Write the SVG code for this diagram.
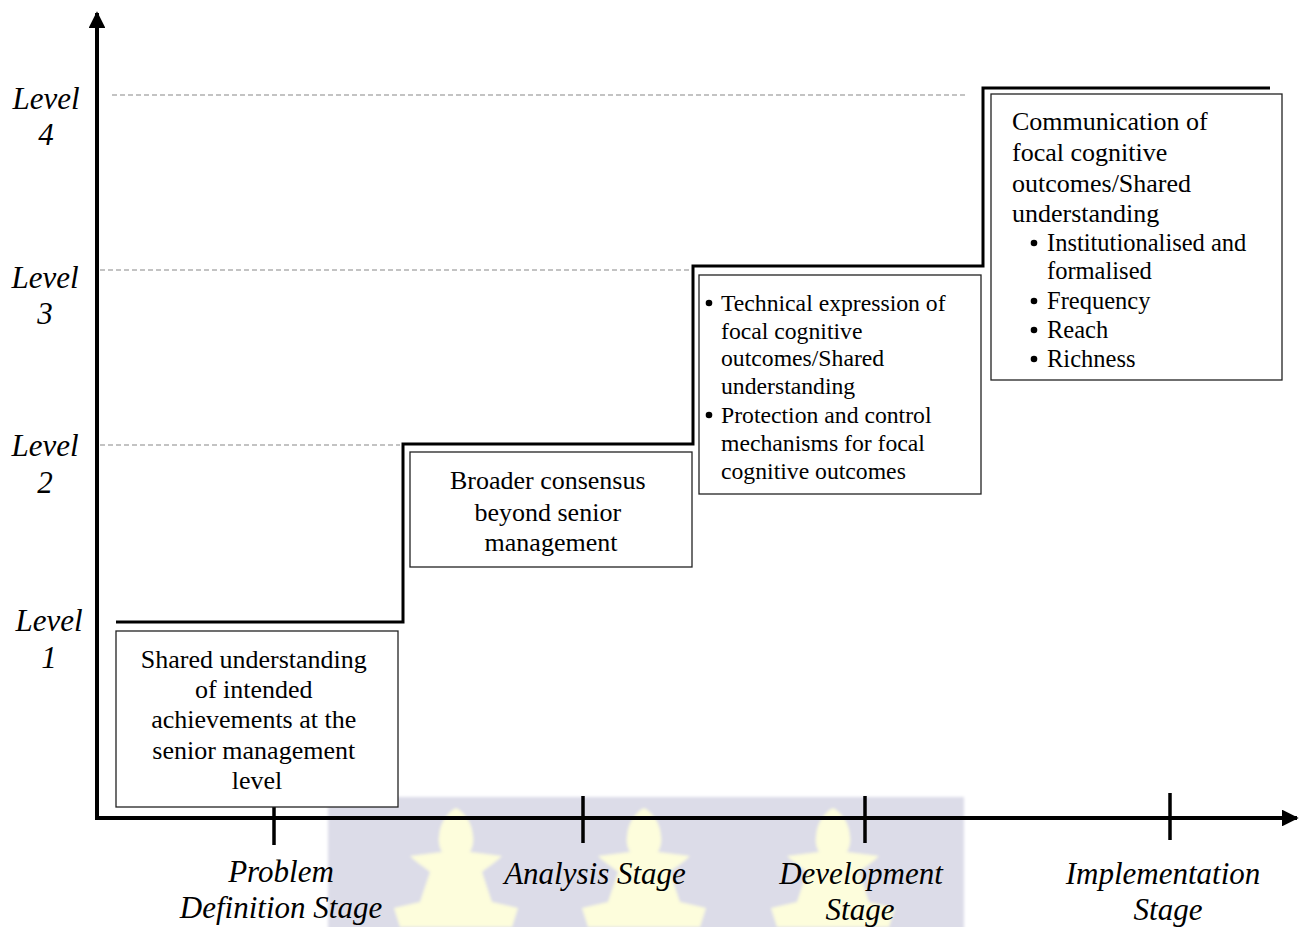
<svg xmlns="http://www.w3.org/2000/svg" width="1301" height="927" viewBox="0 0 1301 927">
  <style>
    .box { fill: #ffffff; stroke: #222222; stroke-width: 1.3; }
    .txt { font-family: "Liberation Serif", "Times New Roman", serif; fill: #000000; }
    .lbl { font-family: "Liberation Serif", "Times New Roman", serif; font-style: italic; font-size: 31px; fill: #000000; text-anchor: middle; }
    .guide { stroke: #b0b0b0; stroke-width: 1.3; stroke-dasharray: 5 3; fill: none; }
    .axis { stroke: #000000; stroke-width: 4; fill: none; }
    .tick { stroke: #000000; stroke-width: 3.5; }
    .step { stroke: #000000; stroke-width: 3; fill: none; }
    .flame { fill: #fdfddc; }
  </style>
  <defs>
    <marker id="arrowHead" viewBox="0 0 10 10" refX="9" refY="5" markerWidth="4.2" markerHeight="4.2" orient="auto" markerUnits="strokeWidth">
      <path d="M0,0 L10,5 L0,10 Z" fill="#000000"/>
    </marker>
    <filter id="soft" x="-5%" y="-5%" width="110%" height="110%">
      <feGaussianBlur stdDeviation="1.5"/>
    </filter>
    <path id="flameShape" d="M0,808 C8,812 16,822 17,836 C18,844 16,848 14,852 L46,856 C38,864 30,868 26,872 C30,884 34,896 36,902 L62,908 L56,927 L-56,927 L-62,908 L-36,902 C-34,896 -30,884 -26,872 C-30,868 -38,864 -46,856 L-14,852 C-16,848 -18,844 -17,836 C-16,822 -8,812 0,808 Z"/>
  </defs>

  <rect x="0" y="0" width="1301" height="927" fill="#ffffff"/>

  <!-- background emblem band -->
  <g id="emblem" filter="url(#soft)">
    <rect x="328" y="797" width="636" height="135" fill="#dcdce8"/>
    <use href="#flameShape" class="flame" transform="translate(456,0)"/>
    <use href="#flameShape" class="flame" transform="translate(644,0)"/>
    <use href="#flameShape" class="flame" transform="translate(833,0)"/>
  </g>

  <!-- level guide lines -->
  <g id="guides">
    <line class="guide" x1="112" y1="95" x2="968" y2="95"/>
    <line class="guide" x1="100" y1="270" x2="690" y2="270"/>
    <line class="guide" x1="100" y1="445" x2="400" y2="445"/>
  </g>

  <!-- connectors: axes, ticks and the level staircase -->
  <g id="connectors">
    <line class="axis" x1="97" y1="820" x2="97" y2="13" marker-end="url(#arrowHead)"/>
    <line class="axis" x1="95" y1="818" x2="1297" y2="818" marker-end="url(#arrowHead)"/>
    <line class="tick" x1="274" y1="796" x2="274" y2="845"/>
    <line class="tick" x1="583" y1="796" x2="583" y2="843"/>
    <line class="tick" x1="865" y1="796" x2="865" y2="843"/>
    <line class="tick" x1="1170" y1="793" x2="1170" y2="840"/>
    <path class="step" d="M116,622 H403 V444 H693 V266 H983 V88 H1270"/>
  </g>

  <!-- level labels -->
  <g id="level-labels">
    <text class="lbl" x="46" y="109">Level</text>
    <text class="lbl" x="46" y="145">4</text>
    <text class="lbl" x="45" y="288">Level</text>
    <text class="lbl" x="45" y="324">3</text>
    <text class="lbl" x="45" y="456">Level</text>
    <text class="lbl" x="45" y="493">2</text>
    <text class="lbl" x="49" y="631">Level</text>
    <text class="lbl" x="49" y="668">1</text>
  </g>

  <!-- stage labels -->
  <g id="stage-labels">
    <text class="lbl" x="281" y="882">Problem</text>
    <text class="lbl" x="281" y="918">Definition Stage</text>
    <text class="lbl" x="595" y="884">Analysis Stage</text>
    <text class="lbl" x="861" y="884">Development</text>
    <text class="lbl" x="860" y="920">Stage</text>
    <text class="lbl" x="1163" y="884">Implementation</text>
    <text class="lbl" x="1168" y="920">Stage</text>
  </g>

  <g id="node-level1">
    <rect class="box" x="116" y="631" width="282" height="176"/>
    <text class="txt" font-size="26" text-anchor="middle">
      <tspan x="257" y="668">Shared understanding</tspan>
      <tspan x="257" y="698">of intended</tspan>
      <tspan x="257" y="728">achievements at the</tspan>
      <tspan x="257" y="759">senior management</tspan>
      <tspan x="257" y="789">level</tspan>
    </text>
  </g>

  <g id="node-level2">
    <rect class="box" x="410" y="452" width="282" height="115"/>
    <text class="txt" font-size="26" text-anchor="middle">
      <tspan x="551" y="489">Broader consensus</tspan>
      <tspan x="551" y="521">beyond senior</tspan>
      <tspan x="551" y="551">management</tspan>
    </text>
  </g>

  <g id="node-level3">
    <rect class="box" x="699" y="275" width="282" height="219"/>
    <circle cx="709" cy="303" r="3.3" fill="#000000"/>
    <circle cx="709" cy="415" r="3.3" fill="#000000"/>
    <text class="txt" font-size="23.7">
      <tspan x="721" y="311">Technical expression of</tspan>
      <tspan x="721" y="339">focal cognitive</tspan>
      <tspan x="721" y="366">outcomes/Shared</tspan>
      <tspan x="721" y="394">understanding</tspan>
      <tspan x="721" y="423">Protection and control</tspan>
      <tspan x="721" y="451">mechanisms for focal</tspan>
      <tspan x="721" y="479">cognitive outcomes</tspan>
    </text>
  </g>

  <g id="node-level4">
    <rect class="box" x="991" y="94" width="291" height="286"/>
    <text class="txt" font-size="26">
      <tspan x="1012" y="130">Communication of</tspan>
      <tspan x="1012" y="161">focal cognitive</tspan>
      <tspan x="1012" y="192">outcomes/Shared</tspan>
      <tspan x="1012" y="222">understanding</tspan>
    </text>
    <circle cx="1034" cy="243" r="3.3" fill="#000000"/>
    <circle cx="1034" cy="301" r="3.3" fill="#000000"/>
    <circle cx="1034" cy="330" r="3.3" fill="#000000"/>
    <circle cx="1034" cy="359" r="3.3" fill="#000000"/>
    <text class="txt" font-size="24.5">
      <tspan x="1047" y="251">Institutionalised and</tspan>
      <tspan x="1047" y="279">formalised</tspan>
      <tspan x="1047" y="309">Frequency</tspan>
      <tspan x="1047" y="338">Reach</tspan>
      <tspan x="1047" y="367">Richness</tspan>
    </text>
  </g>
</svg>
